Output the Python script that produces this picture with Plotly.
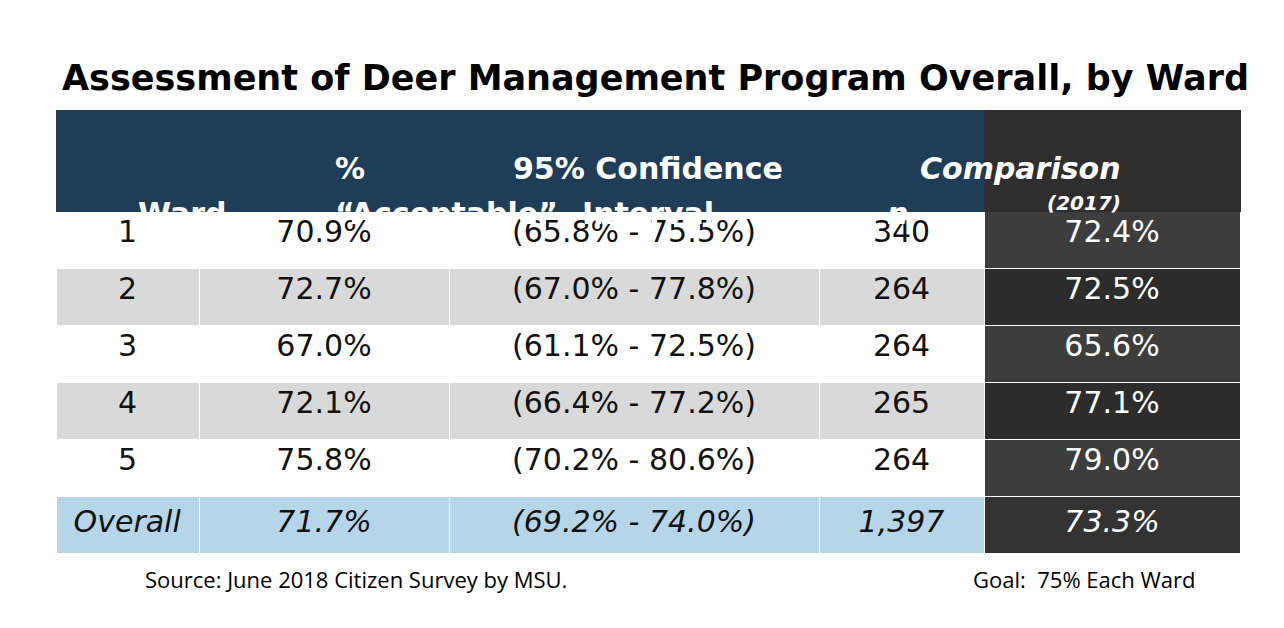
import plotly.graph_objects as go

wards = ["1", "2", "3", "4", "5", "<i>Overall</i>"]
acceptable = ["70.9%", "72.7%", "67.0%", "72.1%", "75.8%", "71.7%"]
conf_int = ["(65.8% - 75.5%)", "(67.0% - 77.8%)", "(61.1% - 72.5%)",
            "(66.4% - 77.2%)", "(70.2% - 80.6%)", "(69.2% - 74.0%)"]
n_resp = ["340", "264", "264", "265", "264", "1,397"]
comparison = ["72.4%", "72.5%", "65.6%", "77.1%", "79.0%", "73.3%"]

# header text lines: (column centre px, line y px, text, size)
header_lines = [
    (128, 186, "<b>Ward</b>", 30),
    (325, 141, "<b>%</b>", 30),
    (325, 186, "<b>\u201cAcceptable\u201d</b>", 30),
    (640, 141, "<b>95% Confidence</b>", 30),
    (640, 186, "<b>Interval</b>", 30),
    (902, 186, "<b><i>n</i></b>", 30),
    (1115, 141, "<b><i>Comparison</i></b>", 30),
    (1115, 181, "<b><i>(2017)</i></b>", 20),
]


def ital_last(col):
    return [c if i < len(col) - 1 or c.startswith("<i>") else "<i>" + c + "</i>" for i, c in enumerate(col)]


body = [wards, ital_last(acceptable), ital_last(conf_int), ital_last(n_resp), ital_last(comparison)]

light = ["white", "#d9d9d9", "white", "#d9d9d9", "white", "#b7d5e8"]
dark = ["#3d3d3d", "#2c2c2c", "#3d3d3d", "#2c2c2c", "#3d3d3d", "#333333"]
fills = [light, light, light, light, dark]
fcolors = [["#111111"] * 6] * 4 + [["white"] * 6]

W, H = 1284, 628
fig = go.Figure(go.Table(
    columnwidth=[143, 250, 370, 165, 256],
    header=dict(values=[""] * 5, height=101,
                fill_color=["#1f3d56"] * 4 + ["#2e2e2e"],
                line=dict(color=["#1f3d56"] * 4 + ["#2e2e2e"], width=1)),
    cells=dict(values=body, height=57, fill_color=fills,
               font=dict(family="DejaVu Sans", size=30, color=fcolors),
               align="center", line=dict(color="white", width=1)),
    domain=dict(x=[48 / W, 1232 / W], y=[0, 1 - 102 / H]),
))

for x, y, t, s in header_lines:
    fig.add_annotation(text=t, x=x / W, y=1 - y / H, xref="paper", yref="paper",
                       showarrow=False, font=dict(family="DejaVu Sans", size=s, color="white"))

fig.add_annotation(text="<b>Assessment of Deer Management Program Overall, by Ward</b>",
                   x=648 / W, y=1 - 48 / H, xref="paper", yref="paper", showarrow=False,
                   font=dict(family="DejaVu Sans", size=35, color="black"))
fig.add_annotation(text="Source: June 2018 Citizen Survey by MSU.", x=135 / W, y=1 - 588 / H,
                   xref="paper", yref="paper", xanchor="left", showarrow=False,
                   font=dict(family="Open Sans", size=22, color="black"))
fig.add_annotation(text="Goal:  75% Each Ward", x=1189 / W, y=1 - 588 / H,
                   xref="paper", yref="paper", xanchor="right", showarrow=False,
                   font=dict(family="Open Sans", size=22, color="black"))

fig.update_layout(width=W, height=H, margin=dict(l=0, r=0, t=0, b=0),
                  paper_bgcolor="white")
fig.write_html("out.html")
